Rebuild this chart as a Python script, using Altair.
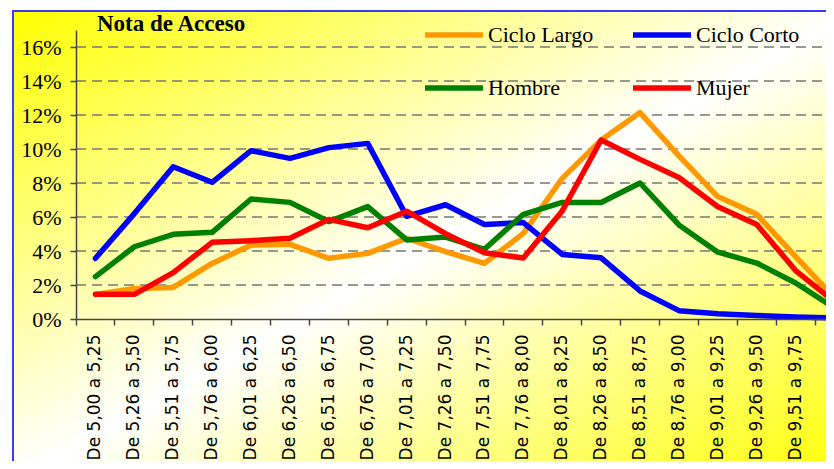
import altair as alt
import pandas as pd

categories = [
    "De 5,00 a 5,25", "De 5,26 a 5,50", "De 5,51 a 5,75", "De 5,76 a 6,00",
    "De 6,01 a 6,25", "De 6,26 a 6,50", "De 6,51 a 6,75", "De 6,76 a 7,00",
    "De 7,01 a 7,25", "De 7,26 a 7,50", "De 7,51 a 7,75", "De 7,76 a 8,00",
    "De 8,01 a 8,25", "De 8,26 a 8,50", "De 8,51 a 8,75", "De 8,76 a 9,00",
    "De 9,01 a 9,25", "De 9,26 a 9,50", "De 9,51 a 9,75", "De 9,76 a 10",
]

series_names = ["Ciclo Largo", "Ciclo Corto", "Hombre", "Mujer"]
series_colors = ["#FF9900", "#0000FF", "#008000", "#FF0000"]

# values in percent
ciclo_largo = [1.45, 1.80, 1.86, 3.27, 4.35, 4.39, 3.57, 3.86, 4.75, 3.96,
               3.27, 5.04, 8.27, 10.53, 12.14, 9.60, 7.20, 6.16, 3.67, 1.25]
ciclo_corto = [3.57, 6.20, 8.96, 8.04, 9.90, 9.45, 10.08, 10.33, 6.04, 6.72,
               5.56, 5.67, 3.80, 3.60, 1.65, 0.49, 0.31, 0.21, 0.12, 0.06]
hombre = [2.49, 4.25, 4.98, 5.10, 7.06, 6.86, 5.73, 6.61, 4.65, 4.82,
          4.10, 6.16, 6.86, 6.85, 8.00, 5.53, 3.93, 3.29, 2.12, 0.65]
mujer = [1.45, 1.45, 2.73, 4.51, 4.61, 4.75, 5.86, 5.37, 6.34, 5.02,
         3.90, 3.59, 6.36, 10.53, 9.39, 8.32, 6.60, 5.56, 2.85, 1.00]

y_ticks = [0, 2, 4, 6, 8, 10, 12, 14, 16]
y_max = 17

rows = []
for name, vals in zip(series_names, [ciclo_largo, ciclo_corto, hombre, mujer]):
    for c, v in zip(categories, vals):
        rows.append({"Tramo": c, "Serie": name, "Valor": v})
df = pd.DataFrame(rows)

W, H = 778, 289
yscale = alt.Scale(domain=[0, y_max], nice=False)

y_axis = alt.Axis(
    title=None, values=y_ticks, labelExpr="datum.value + '%'",
    grid=False, tickSize=6, tickColor="#444444", domainColor="#444444",
    tickWidth=1.5, domainWidth=1.5, labelFont="Liberation Serif",
    labelFontSize=22, labelColor="black", labelPadding=9, zindex=1,
)

gradient = {
    "gradient": "linear", "x1": 0, "y1": 0, "x2": 1, "y2": 1,
    "stops": [
        {"offset": 0, "color": "#FFFF00"},
        {"offset": 0.5, "color": "#FFFFFF"},
        {"offset": 1, "color": "#FFFF00"},
    ],
}

bg = alt.Chart(pd.DataFrame({"k": [0]})).mark_rect(
    fill=gradient, stroke="#3A3AFF", strokeWidth=2
).encode(
    x=alt.value(-63), x2=alt.value(780), y=alt.value(-19), y2=alt.value(450)
)

grid = alt.Chart(pd.DataFrame({"Valor": [t for t in y_ticks if t > 0]})).mark_rule(
    strokeDash=[10, 6], color="#777777", strokeWidth=1.5
).encode(y=alt.Y("Valor:Q", scale=yscale, axis=y_axis))

lines = alt.Chart(df).mark_line(
    strokeWidth=5.5, strokeCap="round", strokeJoin="round"
).encode(
    x=alt.X(
        "Tramo:N", sort=categories,
        scale=alt.Scale(type="band", paddingInner=0, paddingOuter=0),
        axis=alt.Axis(
            title=None, labelAngle=-90, labelFont="DejaVu Sans", labelFontSize=17,
            labelColor="black", labelPadding=9, tickSize=6, bandPosition=0,
            tickColor="#444444", domainColor="#444444", tickWidth=1.5,
            domainWidth=1.5, grid=False, labelOverlap=False, zindex=1,
        ),
    ),
    y=alt.Y("Valor:Q", scale=yscale, axis=y_axis),
    color=alt.Color(
        "Serie:N", sort=series_names,
        scale=alt.Scale(domain=series_names, range=series_colors),
        legend=alt.Legend(
            title=None, orient="none", legendX=346, legendY=-27, columns=2,
            direction="horizontal",
            symbolType="stroke", symbolSize=3364, symbolStrokeWidth=5.5,
            labelFont="Liberation Serif", labelFontSize=22, labelColor="black",
            labelOffset=2, columnPadding=28, rowPadding=10, padding=0,
            zindex=1,
        ),
    ),
)

chart = alt.layer(bg, grid, lines).properties(
    width=W, height=H,
    autosize=alt.AutoSizeParams(type="none"),
    padding={"left": 68, "top": 22, "right": -28, "bottom": 142},
    title=alt.TitleParams(
        text="Nota de Acceso", anchor="start", font="Liberation Serif",
        fontSize=23, fontWeight="bold", color="black", dx=21, dy=51,
        baseline="alphabetic", offset=0, zindex=1, frame="group",
    ),
).configure_view(stroke=None)

chart.save("out.html", embed_options={"renderer": "svg", "actions": False})
